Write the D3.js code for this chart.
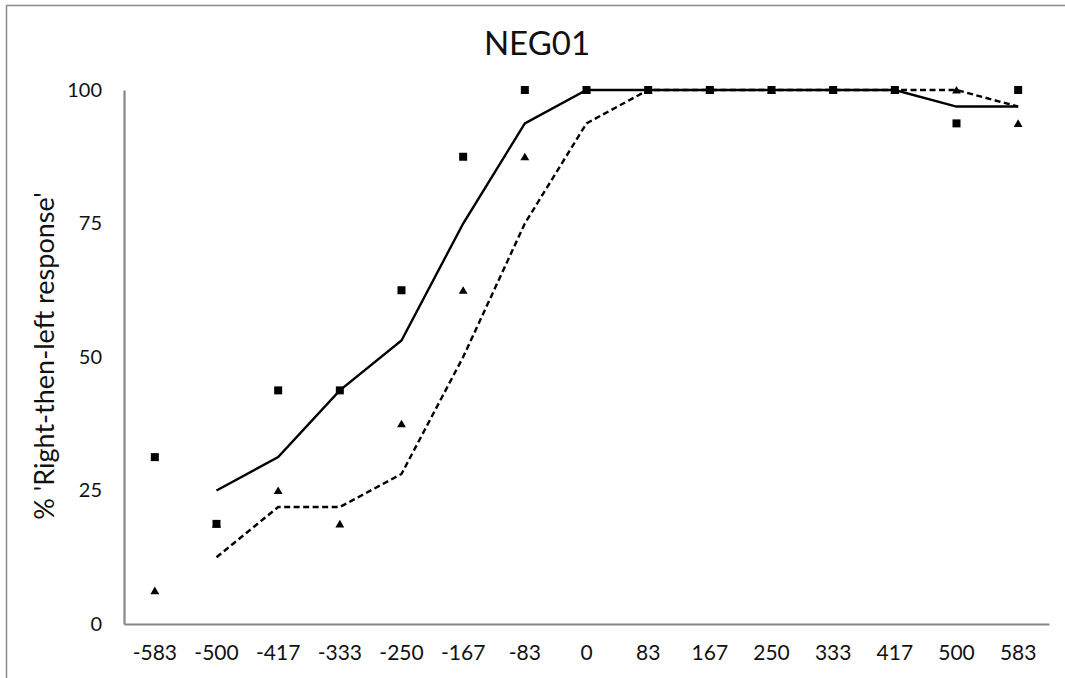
<!DOCTYPE html>
<html>
<head>
<meta charset="utf-8">
<script src="https://cdn.jsdelivr.net/npm/d3@7"></script>
<style>
body { margin: 0; background: #fff; }
svg { display: block; font-family: Lato, "Open Sans", sans-serif; }
</style>
</head>
<body>
<svg id="chart" width="1065" height="678"></svg>
<script>
const categories = ["-583","-500","-417","-333","-250","-167","-83","0","83","167","250","333","417","500","583"];
// Series A (squares) and its 2-point moving-average line (solid)
const squareValues = [31.25, 18.75, 43.75, 43.75, 62.5, 87.5, 100, 100, 100, 100, 100, 100, 100, 93.75, 100];
const solidLine    = [null, 25, 31.25, 43.75, 53.1, 75, 93.75, 100, 100, 100, 100, 100, 100, 96.9, 96.9];
// Series B (triangles) and its 2-point moving-average line (dashed)
const triangleValues = [6.25, 18.75, 25, 18.75, 37.5, 62.5, 87.5, 100, 100, 100, 100, 100, 100, 100, 93.75];
const dashedLine     = [null, 12.5, 21.9, 21.9, 28.1, 50, 75, 93.75, 100, 100, 100, 100, 100, 100, 96.9];
const yTicks = [0, 25, 50, 75, 100];
const title = "NEG01";
const yLabel = "% 'Right-then-left response'";

const svg = d3.select("#chart");
const plotLeft = 124, plotRight = 1049, plotTop = 90, plotBottom = 624;

// outer border
svg.append("rect").attr("x", 6.5).attr("y", 5.5).attr("width", 1070).attr("height", 700)
  .attr("fill", "none").attr("stroke", "#8c8c8c").attr("stroke-width", 1.5);

const x = d3.scaleBand().domain(categories).range([plotLeft, plotRight]).paddingInner(0).paddingOuter(0);
const xc = c => x(c) + x.bandwidth() / 2;
const y = d3.scaleLinear().domain([0, 100]).range([plotBottom, plotTop]);

// axes
const xAxis = d3.axisBottom(x).tickSize(0).tickPadding(21);
const gx = svg.append("g").attr("transform", `translate(0,${plotBottom})`).call(xAxis);
gx.select(".domain").attr("stroke", "#878787").attr("stroke-width", 2.2);
gx.selectAll("text").attr("font-size", 21).attr("fill", "#111").attr("font-family", "Lato");

const yAxis = d3.axisLeft(y).tickValues(yTicks).tickSize(0).tickPadding(22);
const gy = svg.append("g").attr("transform", `translate(${plotLeft},0)`).call(yAxis);
gy.select(".domain").attr("stroke", "#878787").attr("stroke-width", 2.2);
gy.selectAll("text").attr("font-size", 20).attr("fill", "#111").attr("font-family", "Lato");

// title
svg.append("text").attr("x", 537).attr("y", 55).attr("text-anchor", "middle")
  .attr("font-size", 33).attr("fill", "#111").text(title);

// y label
svg.append("text").attr("transform", "translate(54,356) rotate(-90)").attr("text-anchor", "middle")
  .attr("font-size", 27).attr("fill", "#111").text(yLabel);

const line = d3.line().defined(d => d[1] != null).x(d => xc(d[0])).y(d => y(d[1]));

svg.append("path").datum(categories.map((c, i) => [c, dashedLine[i]]))
  .attr("d", line).attr("fill", "none").attr("stroke", "#000").attr("stroke-width", 2.4)
  .attr("stroke-dasharray", "6,3.5");
svg.append("path").datum(categories.map((c, i) => [c, solidLine[i]]))
  .attr("d", line).attr("fill", "none").attr("stroke", "#000").attr("stroke-width", 2.4);

// markers
const tri = d3.symbol().type(d3.symbolTriangle).size(34);
svg.append("g").selectAll("path").data(categories.map((c, i) => [c, triangleValues[i]]))
  .join("path").attr("d", tri)
  .attr("transform", d => `translate(${xc(d[0])},${y(d[1]) + 1})`).attr("fill", "#000");

const s = 8;
svg.append("g").selectAll("rect").data(categories.map((c, i) => [c, squareValues[i]]))
  .join("rect").attr("x", d => xc(d[0]) - s / 2).attr("y", d => y(d[1]) - s / 2)
  .attr("width", s).attr("height", s).attr("fill", "#000");
</script>
</body>
</html>
